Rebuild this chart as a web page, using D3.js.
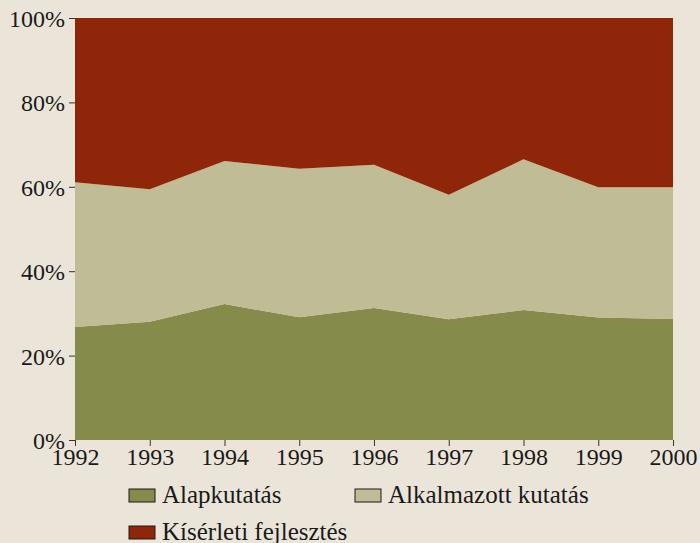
<!DOCTYPE html>
<html>
  <head>
    <meta charset="utf-8" />
    <title>K+F megoszlás</title>
    <style>
      body { margin: 0; background-color: #ebe5d9; }
    </style>
  </head>
  <body>
    <svg id="chart"></svg>
    <script src="https://d3js.org/d3.v7.min.js"></script>
    <script>

      // data (percent shares)
      var years = [1992, 1993, 1994, 1995, 1996, 1997, 1998, 1999, 2000];
      var alapkutatas = [26.8, 28.0, 32.2, 29.1, 31.3, 28.6, 30.8, 29.0, 28.7];
      var alkalmazott = [34.3, 31.4, 33.9, 35.2, 33.9, 29.5, 35.7, 30.9, 31.2];
      var kiserleti = [38.9, 40.6, 33.9, 35.7, 34.8, 41.9, 33.5, 40.1, 40.1];
      var seriesNames = ["Alapkutatás", "Alkalmazott kutatás", "Kísérleti fejlesztés"];
      var yTicks = [0, 20, 40, 60, 80, 100];

      var width = 700, height = 543;
      var margin = {top: 18, right: 27, bottom: 103, left: 75};
      var fontFam = "'Liberation Serif'";

      var svg = d3.select("#chart")
                  .attr("width", width)
                  .attr("height", height);

      var rows = years.map(function(y, i) {
        return {year: y, a: alapkutatas[i], b: alkalmazott[i], c: kiserleti[i]};
      });

      var x = d3.scaleLinear()
                .domain(d3.extent(years))
                .range([margin.left, width - margin.right]);

      var y = d3.scaleLinear()
                .domain([0, 100])
                .range([height - margin.bottom, margin.top]);

      var color = d3.scaleOrdinal()
                    .domain(["a", "b", "c"])
                    .range(["#858b4a", "#bfbc96", "#8f260a"]);

      var stack = d3.stack().keys(["a", "b", "c"]);

      var area = d3.area()
                   .x(function(d) { return x(d.data.year); })
                   .y0(function(d) { return y(d[0]); })
                   .y1(function(d) { return y(d[1]); });

      svg.append("g")
         .selectAll("path")
         .data(stack(rows))
         .enter().append("path")
         .attr("d", area)
         .attr("fill", function(d) { return color(d.key); });

      var xAxis = svg.append("g")
                     .attr("transform", "translate(0," + (height - margin.bottom) + ")")
                     .call(d3.axisBottom(x)
                             .tickValues(years)
                             .tickFormat(d3.format("d"))
                             .tickSize(6)
                             .tickPadding(2));

      var yAxis = svg.append("g")
                     .attr("transform", "translate(" + margin.left + ",0)")
                     .call(d3.axisLeft(y)
                             .tickValues(yTicks)
                             .tickFormat(function(d) { return d + "%"; })
                             .tickSize(6)
                             .tickPadding(4));

      [xAxis, yAxis].forEach(function(ax) {
        ax.select(".domain").remove();
        ax.selectAll("line").attr("stroke", "#333");
        ax.selectAll("text")
          .style("font-family", fontFam)
          .style("font-size", "24px")
          .attr("fill", "#1a1a1a");
      });
      yAxis.selectAll("text").attr("dy", "0.35em");

      // legend
      var legendPos = [[129, 489], [355, 489], [129, 526]];
      var legend = svg.append("g")
                      .selectAll("g")
                      .data(["a", "b", "c"])
                      .enter().append("g")
                      .attr("transform", function(d, i) {
                        return "translate(" + legendPos[i][0] + "," + legendPos[i][1] + ")";
                      });

      legend.append("rect")
            .attr("width", 26)
            .attr("height", 13)
            .attr("fill", function(d) { return color(d); })
            .attr("stroke", "#1a1a1a")
            .attr("stroke-width", 1);

      legend.append("text")
            .attr("x", 33)
            .attr("y", 14)
            .style("font-family", fontFam)
            .style("font-size", "25px")
            .attr("fill", "#1a1a1a")
            .text(function(d, i) { return seriesNames[i]; });

    </script>
  </body>
</html>
